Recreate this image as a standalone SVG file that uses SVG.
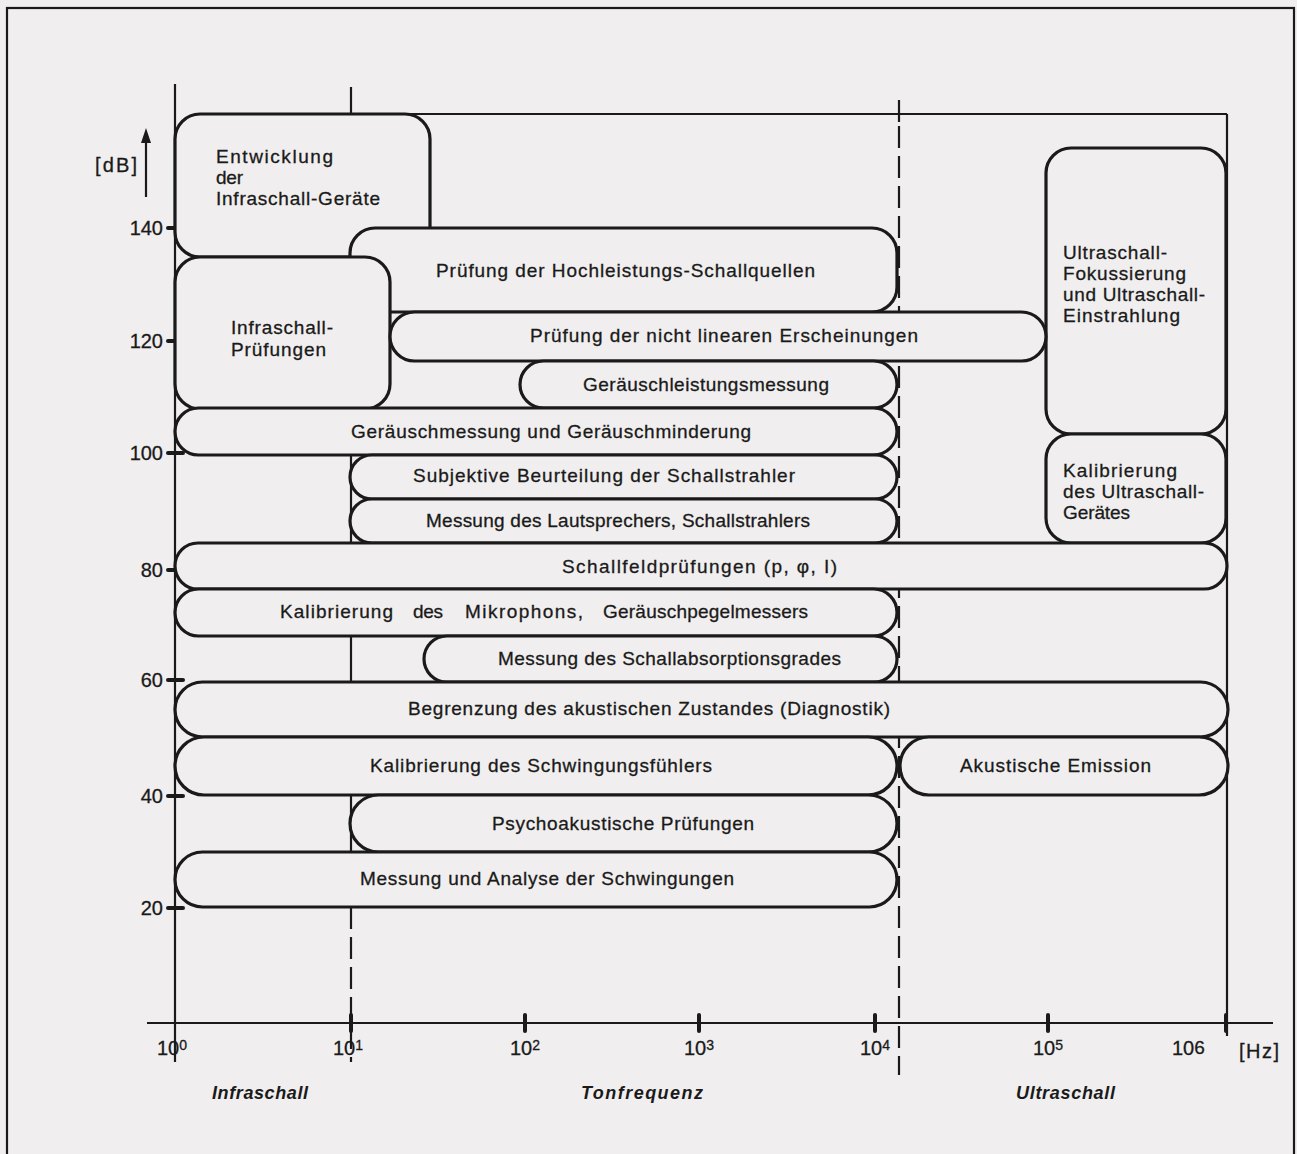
<svg xmlns="http://www.w3.org/2000/svg" width="1297" height="1154" viewBox="0 0 1297 1154">
<defs>
<style>
.bg{fill:#f0eeee}
.b{fill:#f0eeee;stroke:#1a1a1a;stroke-width:3.2}
.ln{fill:none;stroke:#1a1a1a;stroke-width:2.2}
.dash{fill:none;stroke:#1a1a1a;stroke-width:2.2;stroke-dasharray:22 8}
.tk{stroke:#1a1a1a;stroke-width:4;stroke-linecap:round}
text{font-family:"Liberation Sans",Arial,Helvetica,sans-serif;fill:#1a1a1a;stroke:#1a1a1a;stroke-width:0.3}
.t{font-size:19px}
.ax{font-size:20px}
.sup{font-size:14px}
.it{font-size:18px;font-style:italic;font-weight:bold;stroke-width:0}
</style>
</defs>
<rect class="bg" x="0" y="0" width="1297" height="1154"/>
<rect class="ln" x="7" y="8" width="1287" height="1160"/>

<g id="axes">
  <line class="ln" x1="175" y1="84" x2="175" y2="1062"/>
  <line class="ln" x1="147" y1="1023" x2="1273" y2="1023"/>
  <line class="ln" x1="351" y1="87" x2="351" y2="907"/>
  <line class="dash" x1="351" y1="907" x2="351" y2="1062"/>
  <line class="ln" x1="899" y1="100" x2="899" y2="122"/>
  <line class="dash" x1="899" y1="126" x2="899" y2="1075"/>
  <line class="ln" x1="400" y1="114" x2="1227" y2="114"/>
  <line class="ln" x1="1227" y1="114" x2="1227" y2="1036"/>
  <line class="tk" x1="351" y1="1015" x2="351" y2="1031"/>
  <line class="tk" x1="525" y1="1015" x2="525" y2="1031"/>
  <line class="tk" x1="699" y1="1015" x2="699" y2="1031"/>
  <line class="tk" x1="875" y1="1015" x2="875" y2="1031"/>
  <line class="tk" x1="1048" y1="1015" x2="1048" y2="1031"/>
  <line class="tk" x1="1226" y1="1015" x2="1226" y2="1031"/>
  <line class="tk" x1="168" y1="228" x2="183" y2="228"/>
  <line class="tk" x1="168" y1="341" x2="183" y2="341"/>
  <line class="tk" x1="168" y1="453" x2="183" y2="453"/>
  <line class="tk" x1="168" y1="570" x2="183" y2="570"/>
  <line class="tk" x1="168" y1="680" x2="183" y2="680"/>
  <line class="tk" x1="168" y1="796" x2="183" y2="796"/>
  <line class="tk" x1="168" y1="908" x2="183" y2="908"/>
  <line class="ln" x1="146" y1="197" x2="146" y2="138"/>
  <polygon points="146,128 141,143 151,143" fill="#1a1a1a"/>
  <text class="ax" x="95" y="172" textLength="42" lengthAdjust="spacing">[dB]</text>
  <g text-anchor="end">
    <text class="ax" x="163" y="235">140</text>
    <text class="ax" x="163" y="348">120</text>
    <text class="ax" x="163" y="460">100</text>
    <text class="ax" x="163" y="577">80</text>
    <text class="ax" x="163" y="687">60</text>
    <text class="ax" x="163" y="803">40</text>
    <text class="ax" x="163" y="915">20</text>
  </g>
  <text class="ax" x="157" y="1055">10<tspan class="sup" dy="-5">0</tspan></text>
  <text class="ax" x="333" y="1055">10<tspan class="sup" dy="-5">1</tspan></text>
  <text class="ax" x="510" y="1055">10<tspan class="sup" dy="-5">2</tspan></text>
  <text class="ax" x="684" y="1055">10<tspan class="sup" dy="-5">3</tspan></text>
  <text class="ax" x="860" y="1055">10<tspan class="sup" dy="-5">4</tspan></text>
  <text class="ax" x="1033" y="1055">10<tspan class="sup" dy="-5">5</tspan></text>
  <text class="ax" x="1172" y="1055">10<tspan font-size="19" dy="-1">6</tspan></text>
  <text class="ax" x="1239" y="1058" textLength="40" lengthAdjust="spacing">[Hz]</text>
  <text class="it" x="212" y="1099" textLength="96" lengthAdjust="spacing">Infraschall</text>
  <text class="it" x="581" y="1099" textLength="122" lengthAdjust="spacing">Tonfrequenz</text>
  <text class="it" x="1016" y="1099" textLength="99" lengthAdjust="spacing">Ultraschall</text>
</g>

<g id="connectors"></g>

<g id="n-entwicklung">
  <rect class="b" x="175" y="114" width="255" height="143" rx="25"/>
  <text class="t" x="216" y="163" textLength="117" lengthAdjust="spacing">Entwicklung</text>
  <text class="t" x="216" y="184" textLength="27" lengthAdjust="spacing">der</text>
  <text class="t" x="216" y="205" textLength="164" lengthAdjust="spacing">Infraschall-Geräte</text>
</g>
<g id="n-ultra-fokus">
  <rect class="b" x="1046" y="148" width="180" height="286" rx="25"/>
  <text class="t" x="1063" y="259" textLength="104" lengthAdjust="spacing">Ultraschall-</text>
  <text class="t" x="1063" y="280" textLength="123" lengthAdjust="spacing">Fokussierung</text>
  <text class="t" x="1063" y="301" textLength="142" lengthAdjust="spacing">und Ultraschall-</text>
  <text class="t" x="1063" y="322" textLength="117" lengthAdjust="spacing">Einstrahlung</text>
</g>
<g id="n-ultra-kalib">
  <rect class="b" x="1046" y="434" width="180" height="109" rx="25"/>
  <text class="t" x="1063" y="477" textLength="114" lengthAdjust="spacing">Kalibrierung</text>
  <text class="t" x="1063" y="498" textLength="141" lengthAdjust="spacing">des Ultraschall-</text>
  <text class="t" x="1063" y="519" textLength="67" lengthAdjust="spacing">Gerätes</text>
</g>
<g id="n-hochleistung">
  <rect class="b" x="350" y="228" width="547" height="84" rx="25"/>
  <text class="t" x="436" y="277" textLength="379" lengthAdjust="spacing">Prüfung der Hochleistungs-Schallquellen</text>
</g>
<g id="n-infra-pruef">
  <rect class="b" x="175" y="257" width="215" height="152" rx="25"/>
  <text class="t" x="231" y="334" textLength="102" lengthAdjust="spacing">Infraschall-</text>
  <text class="t" x="231" y="356" textLength="95" lengthAdjust="spacing">Prüfungen</text>
</g>
<g id="n-nichtlinear">
  <rect class="b" x="390" y="312" width="656" height="49" rx="24.5"/>
  <text class="t" x="530" y="342" textLength="388" lengthAdjust="spacing">Prüfung der nicht linearen Erscheinungen</text>
</g>
<g id="n-leistung">
  <rect class="b" x="520" y="361" width="377" height="47" rx="23.5"/>
  <text class="t" x="583" y="391" textLength="246" lengthAdjust="spacing">Geräuschleistungsmessung</text>
</g>
<g id="n-geraeusch">
  <rect class="b" x="175" y="408" width="722" height="47" rx="23.5"/>
  <text class="t" x="351" y="438" textLength="400" lengthAdjust="spacing">Geräuschmessung und Geräuschminderung</text>
</g>
<g id="n-subjektiv">
  <rect class="b" x="350" y="455" width="547" height="44" rx="22"/>
  <text class="t" x="413" y="482" textLength="382" lengthAdjust="spacing">Subjektive Beurteilung der Schallstrahler</text>
</g>
<g id="n-lautsprecher">
  <rect class="b" x="350" y="499" width="547" height="44" rx="22"/>
  <text class="t" x="426" y="527" textLength="384" lengthAdjust="spacing">Messung des Lautsprechers, Schallstrahlers</text>
</g>
<g id="n-schallfeld">
  <rect class="b" x="175" y="543" width="1052" height="46" rx="23"/>
  <text class="t" x="562" y="573" textLength="275" lengthAdjust="spacing">Schallfeldprüfungen (p, φ, I)</text>
</g>
<g id="n-mikrophon">
  <rect class="b" x="175" y="589" width="722" height="47" rx="23.5"/>
  <text class="t" y="618"><tspan x="280" textLength="113" lengthAdjust="spacing">Kalibrierung</tspan> <tspan x="413" textLength="30" lengthAdjust="spacing">des</tspan> <tspan x="465" textLength="118" lengthAdjust="spacing">Mikrophons,</tspan> <tspan x="603" textLength="205" lengthAdjust="spacing">Geräuschpegelmessers</tspan></text>
</g>
<g id="n-absorption">
  <rect class="b" x="424" y="636" width="473" height="46" rx="23"/>
  <text class="t" x="498" y="665" textLength="343" lengthAdjust="spacing">Messung des Schallabsorptionsgrades</text>
</g>
<g id="n-begrenzung">
  <rect class="b" x="175" y="682" width="1053" height="55" rx="27.5"/>
  <text class="t" x="408" y="715" textLength="482" lengthAdjust="spacing">Begrenzung des akustischen Zustandes (Diagnostik)</text>
</g>
<g id="n-schwingung">
  <rect class="b" x="175" y="737" width="722" height="58" rx="29"/>
  <text class="t" x="370" y="772" textLength="342" lengthAdjust="spacing">Kalibrierung des Schwingungsfühlers</text>
</g>
<g id="n-emission">
  <rect class="b" x="900" y="737" width="328" height="58" rx="29"/>
  <text class="t" x="960" y="772" textLength="191" lengthAdjust="spacing">Akustische Emission</text>
</g>
<g id="n-psycho">
  <rect class="b" x="350" y="795" width="547" height="57" rx="28.5"/>
  <text class="t" x="492" y="830" textLength="262" lengthAdjust="spacing">Psychoakustische Prüfungen</text>
</g>
<g id="n-analyse">
  <rect class="b" x="175" y="852" width="722" height="55" rx="27.5"/>
  <text class="t" x="360" y="885" textLength="374" lengthAdjust="spacing">Messung und Analyse der Schwingungen</text>
</g>
</svg>
